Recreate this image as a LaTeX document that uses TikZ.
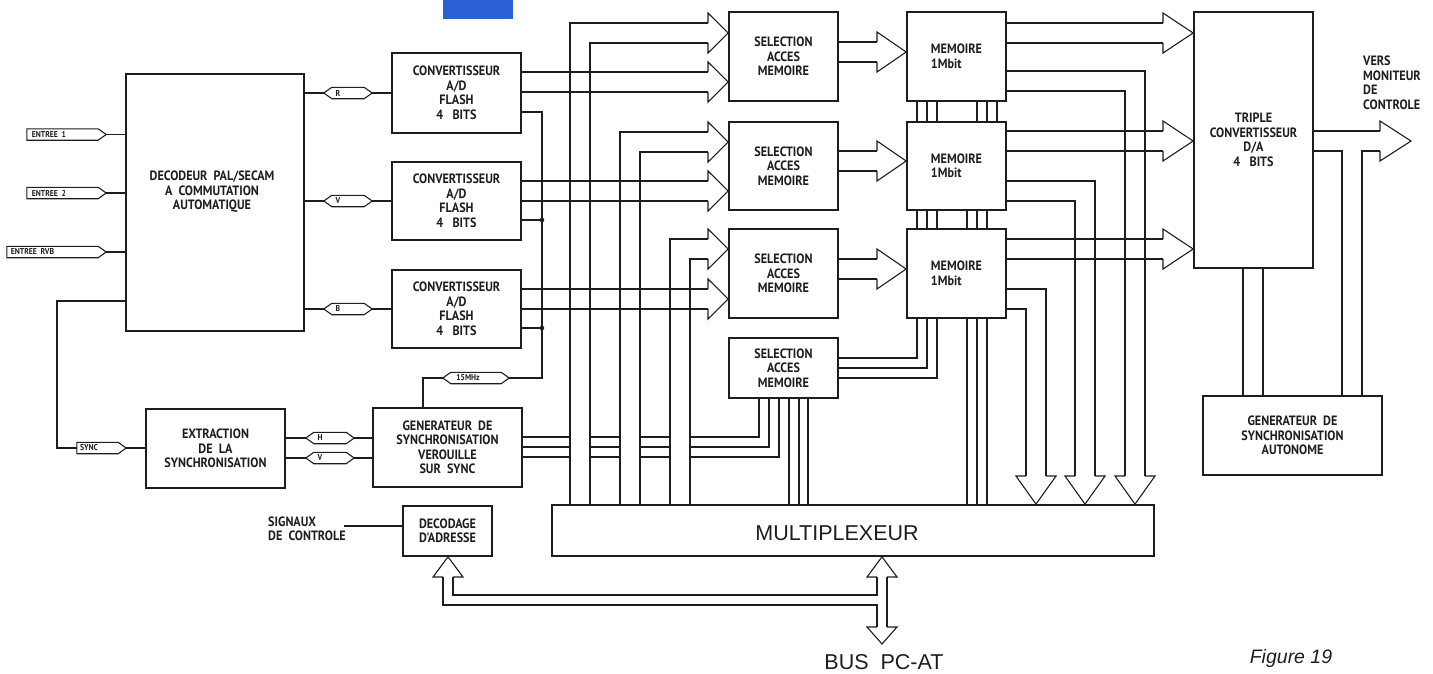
\documentclass[tikz,border=0pt]{standalone}
\usepackage{fontspec}
\setmainfont{PT Sans}
\newfontfamily\blkfont[FakeStretch=0.9]{PT Sans}
\newfontfamily\muxfont{Liberation Sans}
\usetikzlibrary{calc}
\definecolor{ink}{HTML}{1E1E1E}
\definecolor{bluepatch}{RGB}{42,96,214}
\tikzset{
  ln/.style={draw=ink, line width=1.1pt, line join=miter, line cap=butt},
  blk/.style={draw=ink, line width=1.7pt, inner sep=0pt, align=center, text=ink, font=\blkfont\bfseries\fontsize{13.5}{14.5}\selectfont},
  lbl/.style={inner sep=0pt, align=center, text=ink, font=\blkfont\bfseries\fontsize{13.5}{14.5}\selectfont},
  tagbox/.style={inner sep=0pt, minimum height=11pt, text=ink, font=\blkfont\bfseries\fontsize{8.5}{9}\selectfont},
  tagln/.style={draw=ink, line width=1.1pt},
  big/.style={inner sep=0pt, text=ink, font=\muxfont\fontsize{21.5}{24}\selectfont},
}
% right-pointing tag
\newcommand\tagone[6]{%
  \node[tagbox, minimum width=#4pt] (#1) at (#2,#3) {\hspace*{#5pt}#6};
  \draw[tagln] (#1.north west) -- ([xshift=-8pt]#1.north east) -- (#1.east) -- ([xshift=-8pt]#1.south east) -- (#1.south west) -- cycle;}
% double-pointed tag
\newcommand\tagtwo[6]{%
  \node[tagbox, minimum width=#4pt] (#1) at (#2,#3) {\hspace*{#5pt}#6};
  \draw[tagln] (#1.west) -- ([xshift=8pt]#1.north west) -- ([xshift=-8pt]#1.north east) -- (#1.east) -- ([xshift=-8pt]#1.south east) -- ([xshift=8pt]#1.south west) -- cycle;}
% open wide arrow head pointing right onto a node
\newcommand\headR[3]{\draw[ln] (#1,#2-10) -- (#1,#2-20) -- (#3.west |- 0,#2) -- (#1,#2+20) -- (#1,#2+10);}
% open wide arrow head pointing down onto the multiplexer
\newcommand\headD[1]{\draw[ln] (#1-10,476) -- (#1-20,476) -- (mux.north -| #1,0) -- (#1+20,476) -- (#1+10,476);}

\begin{document}
\begin{tikzpicture}[x=1pt,y=-1pt]
\useasboundingbox (0,0) rectangle (1433,673);
\fill[white] (0,0) rectangle (1433,673);
\fill[bluepatch] (443,0) rectangle (513,19);

% ---------- blocks ----------
\node[blk, minimum width=178pt, minimum height=257pt] (dec) at (215,202.5) {};
\node[lbl] (dectxt) at (212,192) {DECODEUR\ \ PAL/SECAM\\A\ \ COMMUTATION\\AUTOMATIQUE};

\node[blk, minimum width=129pt, minimum height=80pt] (conv1) at (456.5,93) {CONVERTISSEUR\\A/D\\FLASH\\4\ \ \ BITS};
\node[blk, minimum width=129pt, minimum height=78pt] (conv2) at (456.5,201) {CONVERTISSEUR\\A/D\\FLASH\\4\ \ \ BITS};
\node[blk, minimum width=129pt, minimum height=78pt] (conv3) at (456.5,309) {CONVERTISSEUR\\A/D\\FLASH\\4\ \ \ BITS};

\node[blk, minimum width=109pt, minimum height=89pt] (sel1) at (783.5,56.5) {SELECTION\\ACCES\\MEMOIRE};
\node[blk, minimum width=109pt, minimum height=88pt] (sel2) at (783.5,166) {SELECTION\\ACCES\\MEMOIRE};
\node[blk, minimum width=109pt, minimum height=89pt] (sel3) at (783.5,273.5) {SELECTION\\ACCES\\MEMOIRE};
\node[blk, minimum width=109pt, minimum height=60pt] (sel4) at (783.5,368) {SELECTION\\ACCES\\MEMOIRE};

\node[blk, align=left, minimum width=99pt, minimum height=89pt] (mem1) at (956.5,56.5) {MEMOIRE\\1Mbit};
\node[blk, align=left, minimum width=99pt, minimum height=88pt] (mem2) at (956.5,166) {MEMOIRE\\1Mbit};
\node[blk, align=left, minimum width=99pt, minimum height=89pt] (mem3) at (956.5,273.5) {MEMOIRE\\1Mbit};

\node[blk, minimum width=119pt, minimum height=256pt] (tri) at (1253.5,140) {TRIPLE\\CONVERTISSEUR\\D/A\\4\ \ \ BITS};
\node[blk, minimum width=179pt, minimum height=79pt] (gena) at (1292.5,435.5) {GENERATEUR\ \ DE\\SYNCHRONISATION\\AUTONOME};

\node[blk, minimum width=139pt, minimum height=79pt] (ext) at (215.5,448.5) {EXTRACTION\\DE\ \ LA\\SYNCHRONISATION};
\node[blk, minimum width=149pt, minimum height=79pt] (gens) at (447.5,447.5) {GENERATEUR\ \ DE\\SYNCHRONISATION\\VEROUILLE\\SUR\ \ SYNC};

\node[blk, minimum width=602pt, minimum height=51pt] (mux) at (853,530.5) {};
\node[big] (muxtxt) at (837,533) {MULTIPLEXEUR};

\node[blk, align=left, minimum width=89pt, minimum height=50pt] (deca) at (447.5,531) {DECODAGE\\D'ADRESSE};

% ---------- labels ----------
\node[lbl, align=left, anchor=west] (sig) at (268,529) {SIGNAUX\\DE\ \ CONTROLE};
\node[lbl, align=left, anchor=north west] (vers) at (1363,56) {VERS\\MONITEUR\\DE\\CONTROLE};
\node[big, font=\muxfont\fontsize{21.5}{24}\selectfont] (bus) at (884,662) {BUS\ \ PC-AT};
\node[inner sep=0pt, text=ink, font=\muxfont\itshape\fontsize{19.5}{22}\selectfont] (fig) at (1291,658) {Figure 19};

% ---------- tags ----------
\tagone{tE1}{66.5}{134.5}{79}{-35}{ENTREE\ \ 1}
\tagone{tE2}{66.5}{193}{79}{-35}{ENTREE\ \ 2}
\tagone{tE3}{56.5}{252}{99}{-48}{ENTREE\ \ RVB}
\tagtwo{tR}{348}{93}{48}{-20}{R}
\tagtwo{tV}{348}{201}{48}{-20}{V}
\tagtwo{tB}{348}{309}{48}{-20}{B}
\tagone{tS}{101.5}{448}{49}{-25}{SYNC}
\tagtwo{tH}{330}{438}{48}{-20}{H}
\tagtwo{tVs}{330}{458}{48}{-20}{V}
\tagtwo{tF}{476}{378}{66}{-16}{15MHz}

% ---------- inputs ----------
\foreach \t in {tE1,tE2,tE3} \draw[ln] (\t.east) -- (\t.east -| dec.west);
\foreach \t/\c in {tR/conv1,tV/conv2,tB/conv3} {
  \draw[ln] (\t.west -| dec.east) -- (\t.west);
  \draw[ln] (\t.east) -- (\t.east -| \c.west);
}
% sync path
\draw[ln] (dec.west |- 0,301) -- (57,301) -- (57,448) -- (tS.west);
\draw[ln] (tS.east) -- (tS.east -| ext.west);
\foreach \t in {tH,tVs} {
  \draw[ln] (\t.west -| ext.east) -- (\t.west);
  \draw[ln] (\t.east) -- (\t.east -| gens.west);
}
% clock 15 MHz
\draw[ln] (gens.north -| 423,0) -- (423,378) -- (tF.west);
\draw[ln] (tF.east) -- (542,378) -- (542,112) -- (conv1.east |- 0,112);
\draw[ln] (conv2.east |- 0,220) -- (542,220);
\draw[ln] (conv3.east |- 0,328) -- (542,328);
\fill[ink] (542,220) circle (2.3pt);
\fill[ink] (542,328) circle (2.3pt);

% ---------- converter buses to selection ----------
\foreach \c/\s/\y in {conv1/sel1/82, conv2/sel2/191, conv3/sel3/299} {
  \draw[ln] (\c.east |- 0,\y-10) -- (708,\y-10);
  \draw[ln] (\c.east |- 0,\y+10) -- (708,\y+10);
  \headR{708}{\y}{\s}
}
% multiplexer buses to selection
\foreach \xa/\s/\y in {570/sel1/33, 620/sel2/142, 670/sel3/249} {
  \draw[ln] (mux.north -| \xa,0) -- (\xa,\y-10) -- (708,\y-10);
  \draw[ln] (mux.north -| \xa+20,0) -- (\xa+20,\y+10) -- (708,\y+10);
  \headR{708}{\y}{\s}
}
% selection to memory
\foreach \s/\m/\y in {sel1/mem1/52, sel2/mem2/161, sel3/mem3/269} {
  \draw[ln] (\s.east |- 0,\y-10) -- (877,\y-10);
  \draw[ln] (\s.east |- 0,\y+10) -- (877,\y+10);
  \headR{877}{\y}{\m}
}
% memory to triple converter
\foreach \m/\y in {mem1/33, mem2/141, mem3/249} {
  \draw[ln] (\m.east |- 0,\y-10) -- (1163,\y-10);
  \draw[ln] (\m.east |- 0,\y+10) -- (1163,\y+10);
  \headR{1163}{\y}{tri}
}
% memory to multiplexer
\foreach \m/\ya/\yb/\xc in {mem1/71/91/1135, mem2/181/201/1085, mem3/289/309/1036} {
  \draw[ln] (\m.east |- 0,\ya) -- (\xc+10,\ya) -- (\xc+10,476);
  \draw[ln] (\m.east |- 0,\yb) -- (\xc-10,\yb) -- (\xc-10,476);
  \headD{\xc}
}
% memory interconnections
\foreach \x in {917,927,937,977,987,997} \draw[ln] (mem1.south -| \x,0) -- (mem2.north -| \x,0);
\foreach \x in {917,927,937,967,977,987} \draw[ln] (mem2.south -| \x,0) -- (mem3.north -| \x,0);
\foreach \x/\y in {917/358, 927/368, 937/378} \draw[ln] (mem3.south -| \x,0) -- (\x,\y) -- (sel4.east |- 0,\y);
\foreach \x in {967,977,987} \draw[ln] (mem3.south -| \x,0) -- (mux.north -| \x,0);
\foreach \x in {789,799,808} \draw[ln] (sel4.south -| \x,0) -- (mux.north -| \x,0);
% synchronisation generator to selection 4
\foreach \y/\x in {437/759, 447/769, 457/779} {
  \draw[ln] (gens.east |- 0,\y) -- (570,\y);
  \draw[ln] (590,\y) -- (620,\y);
  \draw[ln] (640,\y) -- (670,\y);
  \draw[ln] (690,\y) -- (\x,\y) -- (sel4.south -| \x,0);
}

% ---------- output ----------
\coordinate (montip) at (1411,141);
\draw[ln] (tri.east |- 0,131) -- (1380,131);
\draw[ln] (tri.east |- 0,151) -- (1342,151) -- (gena.north -| 1342,0);
\draw[ln] (gena.north -| 1362,0) -- (1362,151) -- (1380,151);
\draw[ln] (1380,131) -- (1380,121) -- (montip) -- (1380,161) -- (1380,151);
\foreach \x in {1243,1263} \draw[ln] (tri.south -| \x,0) -- (gena.north -| \x,0);

% ---------- PC bus ----------
\coordinate (bustip) at (882,644);
\draw[ln] (sig.east |- 0,526) ++(-2,0) -- (deca.west |- 0,526);
\draw[ln] (443,577) -- (443,605) -- (877,605) -- (877,627);
\draw[ln] (453,577) -- (453,595) -- (877,595) -- (877,577);
\draw[ln] (887,577) -- (887,627);
\draw[ln] (443,577) -- (433,577) -- (deca.south -| 448,0) -- (463,577) -- (453,577);
\draw[ln] (877,577) -- (867,577) -- (mux.south -| 882,0) -- (897,577) -- (887,577);
\draw[ln] (877,627) -- (867,627) -- (bustip) -- (897,627) -- (887,627);
\end{tikzpicture}
\end{document}
